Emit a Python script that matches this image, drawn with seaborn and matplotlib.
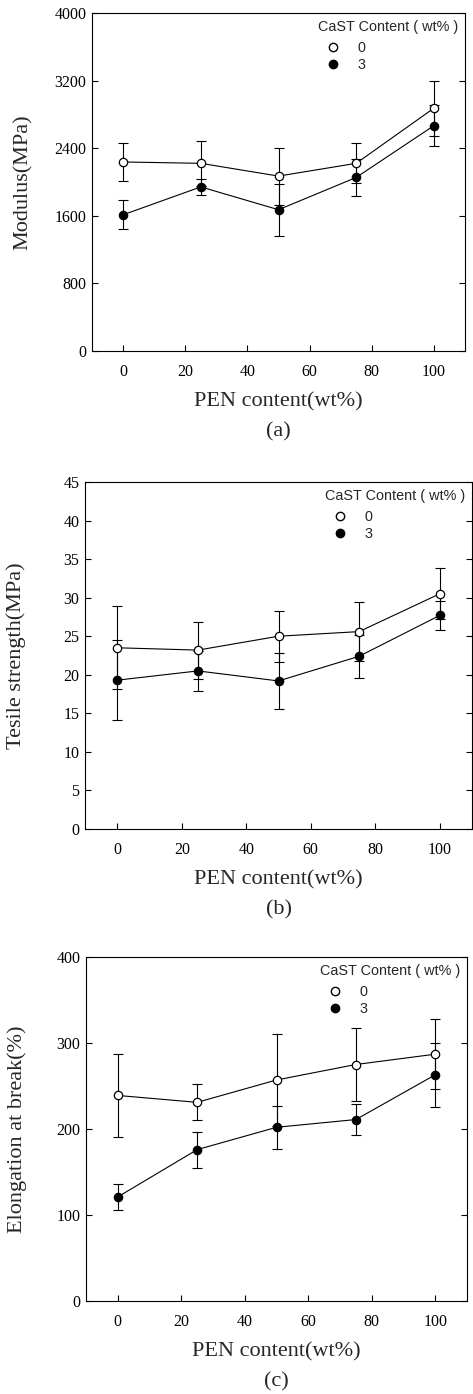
import numpy as np
import pandas as pd
import matplotlib
matplotlib.use("Agg")
import matplotlib.pyplot as plt
import seaborn as sns
from matplotlib.lines import Line2D
from matplotlib.transforms import offset_copy

# ---------------- data ----------------
pen = [0, 25, 50, 75, 100]
xticks = [0, 20, 40, 60, 80, 100]
legend_title = "CaST Content ( wt% )"
legend_labels = ["0", "3"]

mod_0 = [2237, 2221, 2070, 2221, 2874]
mod_0_err = [220, 267, 338, 235, 326]
mod_3 = [1612, 1942, 1672, 2054, 2667]
mod_3_err = [173, 95, 307, 223, 243]
mod_ticks = [0, 800, 1600, 2400, 3200, 4000]

ts_0 = [23.5, 23.2, 25.0, 25.6, 30.5]
ts_0_err = [5.4, 3.7, 3.3, 3.8, 3.3]
ts_3 = [19.3, 20.5, 19.2, 22.4, 27.7]
ts_3_err = [5.2, 2.6, 3.6, 2.8, 1.9]
ts_ticks = [0, 5, 10, 15, 20, 25, 30, 35, 40, 45]

el_0 = [239, 231, 257, 275, 287]
el_0_err = [48, 21, 54, 43, 41]
el_3 = [121, 176, 202, 211, 263]
el_3_err = [15, 21, 25, 18, 37]
el_ticks = [0, 100, 200, 300, 400]

# ---------------- style ----------------
sns.set_theme(style="ticks")
plt.rcParams["font.family"] = ["Liberation Serif", "DejaVu Serif"]
plt.rcParams["axes.linewidth"] = 0.8

W, H = 473, 1394
fig = plt.figure(figsize=(W / 100, H / 100), dpi=100)


def px_axes(left, top, right, bottom):
    return fig.add_axes([left / W, 1 - bottom / H, (right - left) / W, (bottom - top) / H])


panels = [
    dict(box=(92, 13, 465, 351), s0=mod_0, e0=mod_0_err, s3=mod_3, e3=mod_3_err,
         yt=mod_ticks, ylim=(0, 4000), ylabel="Modulus(MPa)", tag="(a)"),
    dict(box=(85, 482, 472, 829), s0=ts_0, e0=ts_0_err, s3=ts_3, e3=ts_3_err,
         yt=ts_ticks, ylim=(0, 45), ylabel="Tesile strength(MPa)", tag="(b)"),
    dict(box=(86, 957, 467, 1301), s0=el_0, e0=el_0_err, s3=el_3, e3=el_3_err,
         yt=el_ticks, ylim=(0, 400), ylabel="Elongation at break(%)", tag="(c)"),
]

for p in panels:
    ax = px_axes(*p["box"])
    wpx = p["box"][2] - p["box"][0]
    hpx = p["box"][3] - p["box"][1]
    for vals, errs, face in [(p["s0"], p["e0"], "white"), (p["s3"], p["e3"], "black")]:
        ax.errorbar(pen, vals, yerr=errs, fmt="none", ecolor="black",
                    elinewidth=0.8, capsize=3.6, capthick=0.8, zorder=1.5)
        sns.lineplot(x=pen, y=vals, ax=ax, color="black", linewidth=0.8,
                     marker="o", markersize=6, markerfacecolor=face,
                     markeredgecolor="black", markeredgewidth=0.9, zorder=3)
    ax.set_xlim(-10, 110)
    ax.set_ylim(*p["ylim"])
    ax.set_xticks(xticks)
    ax.set_yticks(p["yt"])
    ax.tick_params(axis="both", direction="in", length=4, width=0.8,
                   labelsize=11.5, colors="black")
    ax.tick_params(axis="x", pad=9)
    ax.tick_params(axis="y", pad=4, right=True)
    ax.set_xlabel("PEN content(wt%)", fontsize=16)
    ax.set_ylabel(p["ylabel"], fontsize=16)
    ax.xaxis.set_label_coords(0.5, -41 / hpx)
    ax.yaxis.set_label_coords(-59 / wpx, 0.5)
    for s in ax.spines.values():
        s.set_color("black")
        s.set_linewidth(0.8)
    ax.grid(False)

    handles = [
        Line2D([], [], marker="o", ls="none", color="black", mfc="white", markersize=6),
        Line2D([], [], marker="o", ls="none", color="black", mfc="black", markersize=6),
    ]
    leg = ax.legend(handles, legend_labels, title=legend_title, loc="upper right",
                    frameon=False, alignment="left", handlelength=2.2,
                    handletextpad=0.6, labelspacing=0.2, borderaxespad=0.2,
                    borderpad=0.3,
                    prop={"family": "Liberation Sans", "size": 10.4},
                    title_fontproperties={"family": "Liberation Sans", "size": 10.4})
    # a little more room between the legend title and its entries
    leg._legend_box.sep = 0.5 * 10.4

    tr = offset_copy(ax.transAxes, fig=fig, x=0, y=-81, units="dots")
    ax.text(0.5, 0, p["tag"], transform=tr, ha="center", va="center", fontsize=16)

fig.savefig("out.png", dpi=100)
